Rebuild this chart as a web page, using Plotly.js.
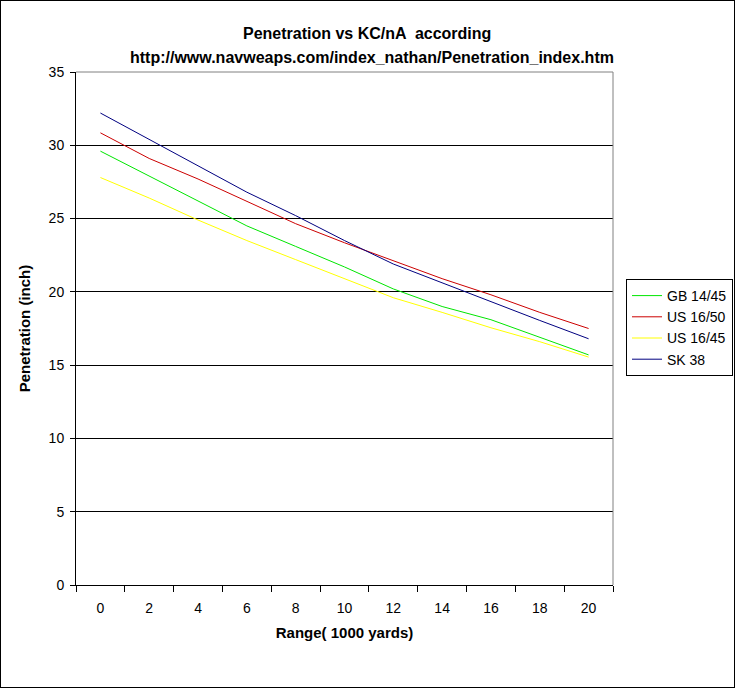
<!DOCTYPE html>
<html>
<head>
<meta charset="utf-8">
<script src="https://cdn.plot.ly/plotly-3.0.1.min.js"></script>
<style>
html,body{margin:0;padding:0;background:#fff;}
#wrap{position:relative;width:735px;height:688px;}
#chart{width:735px;height:688px;}
#frame{position:absolute;left:0;top:0;width:733px;height:686px;border:1px solid #000;pointer-events:none;}
</style>
</head>
<body>
<div id="wrap"><div id="chart"></div><div id="frame"></div></div>
<script>
// Data (range in 1000 yards, penetration in inches)
const rangeCats = ["0","2","4","6","8","10","12","14","16","18","20"];
const gb1445 = [29.6, 27.9, 26.2, 24.5, 23.1, 21.7, 20.2, 19.0, 18.1, 16.9, 15.7];
const us1650 = [30.85, 29.1, 27.7, 26.2, 24.65, 23.35, 22.1, 20.9, 19.8, 18.6, 17.5];
const us1645 = [27.8, 26.4, 24.9, 23.5, 22.2, 20.9, 19.6, 18.6, 17.55, 16.6, 15.55];
const sk38 = [32.2, 30.4, 28.6, 26.8, 25.2, 23.5, 21.9, 20.6, 19.3, 18.05, 16.8];
const seriesNames = ["GB 14/45", "US 16/50", "US 16/45", "SK 38"];
const titleLine1 = "Penetration vs KC/nA  according";
const titleLine2 = "http://www.navweaps.com/index_nathan/Penetration_index.htm";
const xTitle = "Range( 1000 yards)";
const yTitle = "Penetration (inch)";

const FONT = "Liberation Sans, Arial, sans-serif";
const colors = ["#00e600", "#cc0000", "#ffff00", "#000080"];
const values = [gb1445, us1650, us1645, sk38];

const traces = values.map((v, i) => ({
  type: "scatter",
  mode: "lines",
  x: rangeCats,
  y: v,
  name: seriesNames[i],
  line: {color: colors[i], width: 1}
}));

const layout = {
  width: 735, height: 688,
  margin: {l: 76, r: 122, t: 72, b: 103},
  paper_bgcolor: "#fff",
  plot_bgcolor: "#fff",
  font: {family: FONT, size: 14, color: "#000"},
  showlegend: true,
  legend: {
    xref: "container", yref: "container",
    x: 626 / 735, y: 1 - 279 / 688, xanchor: "left", yanchor: "top",
    bordercolor: "#000", borderwidth: 1,
    font: {family: FONT, size: 14, color: "#000"},
    tracegroupgap: 0, itemwidth: 30
  },
  xaxis: {
    type: "category",
    tickson: "boundaries",
    ticks: "outside", ticklen: 6, tickcolor: "#000", tickwidth: 1,
    ticklabelstandoff: 10,
    showgrid: false, zeroline: false,
    showline: true, linecolor: "#000", linewidth: 1,
    tickfont: {family: FONT, size: 14, color: "#000"},
    title: {text: "<b>" + xTitle + "</b>", font: {family: FONT, size: 15, color: "#000"}, standoff: 12},
    range: [-0.5, 10.5]
  },
  yaxis: {
    range: [0, 35], dtick: 5, tick0: 0,
    ticks: "outside", ticklen: 5, tickcolor: "#000", tickwidth: 1,
    ticklabelstandoff: 3,
    showgrid: true, gridcolor: "#000", gridwidth: 1,
    zeroline: false,
    showline: true, linecolor: "#000", linewidth: 1,
    tickfont: {family: FONT, size: 14, color: "#000"},
    title: {text: "<b>" + yTitle + "</b>", font: {family: FONT, size: 15, color: "#000"}, standoff: 14}
  },
  shapes: [
    {type: "line", xref: "paper", yref: "paper", x0: 0, x1: 1, y0: 1, y1: 1, line: {color: "#808080", width: 1}},
    {type: "line", xref: "paper", yref: "paper", x0: 1, x1: 1, y0: 0, y1: 1, line: {color: "#808080", width: 1}}
  ],
  annotations: [
    {text: "<b>" + titleLine1 + "</b>", xref: "paper", yref: "paper", x: (367 - 76) / 537, y: (585 - 33) / 513, xanchor: "center", yanchor: "middle", showarrow: false, font: {family: FONT, size: 16, color: "#000"}},
    {text: "<b>" + titleLine2 + "</b>", xref: "paper", yref: "paper", x: (372 - 76) / 537, y: (585 - 57) / 513, xanchor: "center", yanchor: "middle", showarrow: false, font: {family: FONT, size: 16, color: "#000"}}
  ]
};

Plotly.newPlot("chart", traces, layout, {displayModeBar: false, staticPlot: true});
</script>
</body>
</html>
